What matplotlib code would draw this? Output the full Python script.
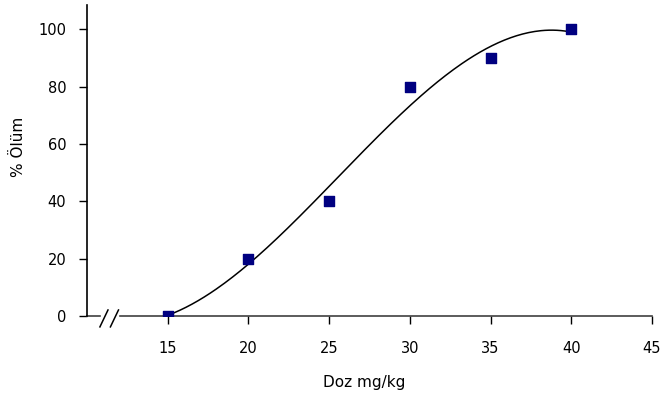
import numpy as np
import matplotlib
matplotlib.use("Agg")
import matplotlib.pyplot as plt

plt.rcParams['font.family'] = ['DejaVu Sans']

# data
doz = [15, 20, 25, 30, 35, 40]
olum = [0, 20, 40, 80, 90, 100]
x_ticks = [15, 20, 25, 30, 35, 40, 45]
y_ticks = [0, 20, 40, 60, 80, 100]

fig = plt.figure(figsize=(6.6, 3.97), dpi=100)
ax = fig.add_axes([87/660, 1-316/397, (652-87)/660, (316-5)/397])

# polynomial trend line (order 3), fitted from the points
coef = np.polyfit(doz, olum, 3)
xs = np.linspace(15, 40, 200)
ax.plot(xs, np.polyval(coef, xs), color='black', lw=1.1)

ax.scatter(doz, olum, marker='s', s=45, color='#000080', zorder=3)

ax.set_xlim(10, 45)
ax.set_ylim(0, 108.5)
ax.set_xticks(x_ticks)
ax.set_yticks(y_ticks)
ax.tick_params(direction='out', length=6, width=1, labelsize=10.5, colors='black')
ax.tick_params(axis='x', pad=12)
ax.tick_params(axis='y', pad=9)

for s in ['top', 'right', 'bottom']:
    ax.spines[s].set_visible(False)
ax.spines['left'].set_linewidth(1.2)

# x axis with a break mark
axis_col = '#404040'
ax.plot([10, 10.8], [0, 0], color=axis_col, lw=1.2, clip_on=False)
ax.plot([12.05, 45], [0, 0], color=axis_col, lw=1.2, clip_on=False)
ax.plot([10.8, 11.3], [-3.8, 2.1], color='black', lw=1.1, clip_on=False)
ax.plot([11.45, 11.95], [-3.8, 2.1], color='black', lw=1.1, clip_on=False)

ax.set_xlabel('Doz mg/kg', fontsize=11)
ax.xaxis.set_label_coords(0.49, -0.19)
ax.set_ylabel('% Ölüm', fontsize=11)
ax.yaxis.set_label_coords(-0.108, 0.543)

fig.savefig('out.png', dpi=100)
